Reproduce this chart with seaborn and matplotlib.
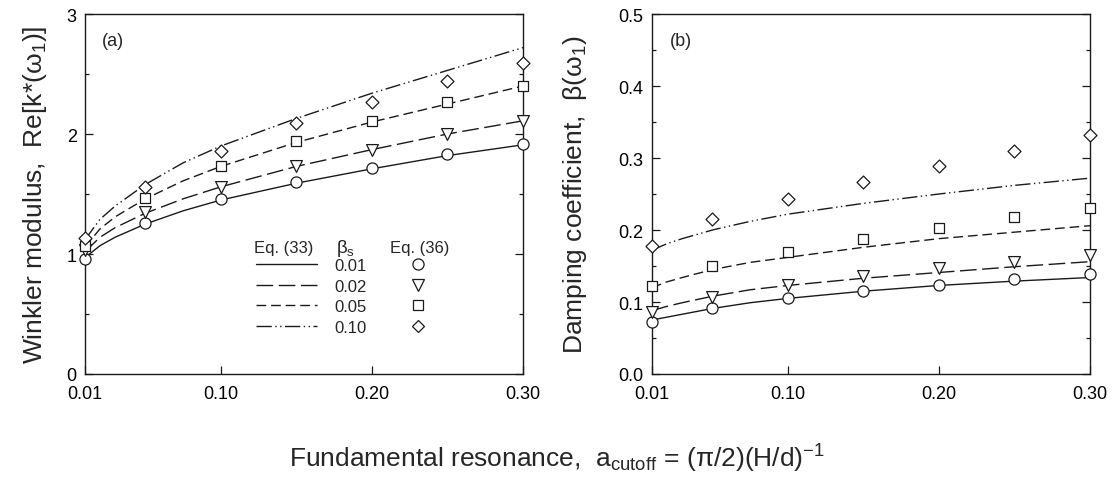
import matplotlib
matplotlib.use("Agg")
import matplotlib.pyplot as plt
from matplotlib.lines import Line2D
from matplotlib.ticker import MultipleLocator, FixedLocator, FixedFormatter
import seaborn as sns

# ---------------- data ----------------
beta_s = ["0.01", "0.02", "0.05", "0.10"]
x_pts = [0.01, 0.05, 0.10, 0.15, 0.20, 0.25, 0.30]          # Eq. (36) symbols
x_curve = [0.01, 0.02, 0.03, 0.05, 0.075, 0.10, 0.15, 0.20, 0.25, 0.30]  # Eq. (33) curves

# panel (a): Winkler modulus Re[k*(w1)]
a_eq33_001 = [0.97, 1.07, 1.14, 1.25, 1.36, 1.45, 1.59, 1.71, 1.82, 1.91]
a_eq33_002 = [1.02, 1.14, 1.22, 1.34, 1.46, 1.56, 1.73, 1.87, 2.00, 2.11]
a_eq33_005 = [1.06, 1.21, 1.31, 1.46, 1.61, 1.73, 1.93, 2.10, 2.25, 2.40]
a_eq33_010 = [1.12, 1.29, 1.40, 1.58, 1.76, 1.90, 2.13, 2.34, 2.53, 2.72]
a_eq36_001 = [0.96, 1.26, 1.46, 1.60, 1.72, 1.83, 1.92]
a_eq36_002 = [1.03, 1.35, 1.56, 1.73, 1.87, 2.00, 2.11]
a_eq36_005 = [1.07, 1.47, 1.73, 1.94, 2.11, 2.27, 2.40]
a_eq36_010 = [1.13, 1.56, 1.86, 2.09, 2.27, 2.44, 2.59]

# panel (b): damping coefficient beta(w1)
b_eq33_001 = [0.075, 0.079, 0.083, 0.091, 0.099, 0.105, 0.115, 0.123, 0.129, 0.134]
b_eq33_002 = [0.088, 0.094, 0.099, 0.108, 0.117, 0.123, 0.133, 0.141, 0.149, 0.156]
b_eq33_005 = [0.120, 0.128, 0.134, 0.145, 0.155, 0.162, 0.176, 0.188, 0.197, 0.206]
b_eq33_010 = [0.172, 0.181, 0.188, 0.200, 0.212, 0.222, 0.237, 0.250, 0.262, 0.272]
b_eq36_001 = [0.072, 0.091, 0.106, 0.115, 0.124, 0.132, 0.139]
b_eq36_002 = [0.086, 0.107, 0.124, 0.136, 0.147, 0.156, 0.165]
b_eq36_005 = [0.122, 0.150, 0.170, 0.188, 0.203, 0.218, 0.231]
b_eq36_010 = [0.178, 0.215, 0.243, 0.267, 0.289, 0.310, 0.332]

x_ticks = [0.01, 0.10, 0.20, 0.30]
x_ticklabels = ["0.01", "0.10", "0.20", "0.30"]
a_yticks = [0, 1, 2, 3]
a_yticklabels = ["0", "1", "2", "3"]
b_yticks = [0.0, 0.1, 0.2, 0.3, 0.4, 0.5]
b_yticklabels = ["0.0", "0.1", "0.2", "0.3", "0.4", "0.5"]

# ---------------- style ----------------
sns.set_style("white")
plt.rcParams["font.family"] = ["Liberation Sans", "DejaVu Sans"]
plt.rcParams["mathtext.fontset"] = "custom"
plt.rcParams["mathtext.rm"] = "Liberation Sans"
plt.rcParams["mathtext.it"] = "Liberation Sans"
plt.rcParams["mathtext.bf"] = "Liberation Sans"

INK = "#1a1a1a"
line_styles = ["-", (0, (12, 4)), (0, (7, 3.5)), (0, (11, 2.5, 1, 2.5, 1, 2.5))]
markers = ["o", "v", "s", "D"]
msizes = [8, 8.5, 7.5, 6.6]

fig = plt.figure(figsize=(11.14, 4.85), dpi=100)
ax1 = fig.add_axes([85 / 1114, 110 / 485, 438 / 1114, 360 / 485])
ax2 = fig.add_axes([652 / 1114, 110 / 485, 438 / 1114, 360 / 485])

curves_a = [a_eq33_001, a_eq33_002, a_eq33_005, a_eq33_010]
pts_a = [a_eq36_001, a_eq36_002, a_eq36_005, a_eq36_010]
curves_b = [b_eq33_001, b_eq33_002, b_eq33_005, b_eq33_010]
pts_b = [b_eq36_001, b_eq36_002, b_eq36_005, b_eq36_010]

for ax, curves, pts in [(ax1, curves_a, pts_a), (ax2, curves_b, pts_b)]:
    for i in range(4):
        sns.lineplot(x=x_curve, y=curves[i], ax=ax, color=INK, linewidth=1.0,
                     linestyle=line_styles[i], zorder=2)
        sns.scatterplot(x=x_pts, y=pts[i], ax=ax, marker=markers[i],
                        s=msizes[i] ** 2, facecolor="white", edgecolor=INK,
                        linewidth=0.9, zorder=3, clip_on=False)
    ax.set_xlim(0.01, 0.30)
    ax.xaxis.set_major_locator(FixedLocator(x_ticks))
    ax.xaxis.set_major_formatter(FixedFormatter(x_ticklabels))
    for sp in ax.spines.values():
        sp.set_visible(True)
        sp.set_color(INK)
        sp.set_linewidth(1.0)
    ax.tick_params(axis="both", which="both", direction="in", colors=INK,
                   labelcolor="black", labelsize=13)
    ax.tick_params(axis="y", which="both", left=True, right=True)
    ax.tick_params(axis="y", which="major", length=6, width=0.9, pad=6)
    ax.tick_params(axis="y", which="minor", length=3, width=0.9)
    ax.tick_params(axis="x", which="major", bottom=True, top=False,
                   length=5.5, width=0.9, pad=8)
    ax.set_xlabel("")
    ax.set_ylabel("")

ax1.set_ylim(0, 3)
ax1.set_yticks(a_yticks)
ax1.set_yticklabels(a_yticklabels)
ax1.yaxis.set_minor_locator(MultipleLocator(0.5))

ax2.set_ylim(0, 0.5)
ax2.set_yticks(b_yticks)
ax2.set_yticklabels(b_yticklabels)
ax2.yaxis.set_minor_locator(MultipleLocator(0.05))

# axis labels
ax1.set_ylabel(r"Winkler modulus,  Re[k*($\mathregular{ω_1}$)]", fontsize=19)
ax1.yaxis.set_label_coords(-0.082, 0.5)
ax2.set_ylabel(r"Damping coefficient,  β($\mathregular{ω_1}$)", fontsize=19)
ax2.yaxis.set_label_coords(-0.143, 0.5)
fig.text(0.5, 0.035, r"Fundamental resonance,  $\mathregular{a_{cutoff}}$ = (π/2)(H/d)$\mathregular{^{-1}}$",
         ha="center", va="baseline", fontsize=19)

# panel tags
ax1.text(0.039, 0.925, "(a)", transform=ax1.transAxes, fontsize=13, va="center", ha="left")
ax2.text(0.041, 0.925, "(b)", transform=ax2.transAxes, fontsize=13, va="center", ha="left")

# legend in panel (a)
line_handles = [Line2D([], [], color=INK, linewidth=1.0, linestyle=ls) for ls in line_styles]
mark_handles = [Line2D([], [], linestyle="none", marker=m, markersize=ms,
                       markerfacecolor="white", markeredgecolor=INK, markeredgewidth=0.9)
                for m, ms in zip(markers, msizes)]
leg1 = ax1.legend(line_handles, beta_s, loc="upper left", bbox_to_anchor=(0.390, 0.322),
                  frameon=False, fontsize=12, handlelength=3.7, handletextpad=1.0,
                  labelspacing=0.33, borderpad=0, borderaxespad=0)
ax1.add_artist(leg1)
leg2 = ax1.legend(mark_handles, [""] * 4, loc="upper left", bbox_to_anchor=(0.742, 0.322),
                  frameon=False, fontsize=12, handlelength=1.0, handletextpad=0,
                  labelspacing=0.33, borderpad=0, borderaxespad=0)
ax1.text(0.454, 0.352, "Eq. (33)", transform=ax1.transAxes, fontsize=12, ha="center", va="center")
ax1.text(0.594, 0.352, r"$\mathregular{β_s}$", transform=ax1.transAxes, fontsize=13.5, ha="center", va="center")
ax1.text(0.765, 0.352, "Eq. (36)", transform=ax1.transAxes, fontsize=12, ha="center", va="center")

fig.savefig("out.png", dpi=100)
